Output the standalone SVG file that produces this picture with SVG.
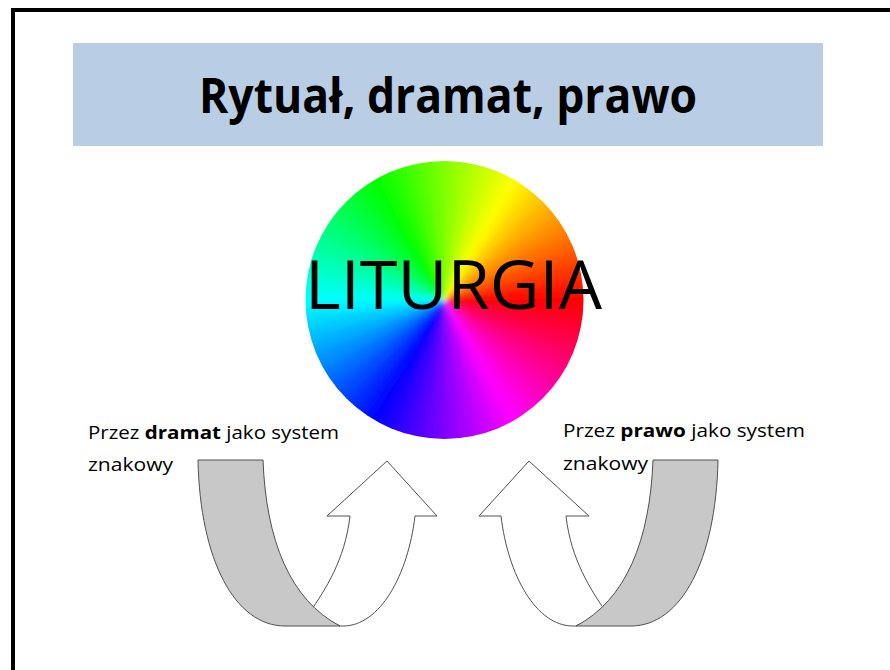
<svg xmlns="http://www.w3.org/2000/svg" xmlns:xlink="http://www.w3.org/1999/xlink" width="890" height="670" viewBox="0 0 890 670">
<style>
.t{font-family:"Open Sans","Liberation Sans",sans-serif;fill:#000}
.lbl{font-size:18px}
.gray{fill:#C8C8C8;stroke:#505050;stroke-width:1;stroke-linejoin:round}
.white{fill:#FFFFFF;stroke:#505050;stroke-width:1;stroke-linejoin:miter}
</style>
<defs>
<path id="w" d="M0,0 L149.62,-10.72 A150,150 0 0 1 149.62,10.72 Z"/>
<clipPath id="disc"><circle cx="444.5" cy="300" r="139"/></clipPath>
<filter id="soft" x="-10%" y="-10%" width="120%" height="120%"><feGaussianBlur stdDeviation="2"/></filter>
<linearGradient id="b" gradientUnits="userSpaceOnUse" x1="0" y1="-9.09" x2="0" y2="9.09"/>
<linearGradient id="a0" xlink:href="#b"><stop stop-color="#FF0000"/><stop offset="1" stop-color="#FF0020"/></linearGradient>
<linearGradient id="a1" xlink:href="#b"><stop stop-color="#FF0020"/><stop offset="1" stop-color="#FF0040"/></linearGradient>
<linearGradient id="a2" xlink:href="#b"><stop stop-color="#FF0040"/><stop offset="1" stop-color="#FF0060"/></linearGradient>
<linearGradient id="a3" xlink:href="#b"><stop stop-color="#FF0060"/><stop offset="1" stop-color="#FF0080"/></linearGradient>
<linearGradient id="a4" xlink:href="#b"><stop stop-color="#FF0080"/><stop offset="1" stop-color="#FF009F"/></linearGradient>
<linearGradient id="a5" xlink:href="#b"><stop stop-color="#FF009F"/><stop offset="1" stop-color="#FF00BF"/></linearGradient>
<linearGradient id="a6" xlink:href="#b"><stop stop-color="#FF00BF"/><stop offset="1" stop-color="#FF00DF"/></linearGradient>
<linearGradient id="a7" xlink:href="#b"><stop stop-color="#FF00DF"/><stop offset="1" stop-color="#FF00FF"/></linearGradient>
<linearGradient id="a8" xlink:href="#b"><stop stop-color="#FF00FF"/><stop offset="1" stop-color="#DF00FF"/></linearGradient>
<linearGradient id="a9" xlink:href="#b"><stop stop-color="#DF00FF"/><stop offset="1" stop-color="#BF00FF"/></linearGradient>
<linearGradient id="a10" xlink:href="#b"><stop stop-color="#BF00FF"/><stop offset="1" stop-color="#9F00FF"/></linearGradient>
<linearGradient id="a11" xlink:href="#b"><stop stop-color="#9F00FF"/><stop offset="1" stop-color="#8000FF"/></linearGradient>
<linearGradient id="a12" xlink:href="#b"><stop stop-color="#8000FF"/><stop offset="1" stop-color="#6000FF"/></linearGradient>
<linearGradient id="a13" xlink:href="#b"><stop stop-color="#6000FF"/><stop offset="1" stop-color="#4000FF"/></linearGradient>
<linearGradient id="a14" xlink:href="#b"><stop stop-color="#4000FF"/><stop offset="1" stop-color="#2000FF"/></linearGradient>
<linearGradient id="a15" xlink:href="#b"><stop stop-color="#2000FF"/><stop offset="1" stop-color="#0000FF"/></linearGradient>
<linearGradient id="a16" xlink:href="#b"><stop stop-color="#0000FF"/><stop offset="1" stop-color="#0020FF"/></linearGradient>
<linearGradient id="a17" xlink:href="#b"><stop stop-color="#0020FF"/><stop offset="1" stop-color="#0040FF"/></linearGradient>
<linearGradient id="a18" xlink:href="#b"><stop stop-color="#0040FF"/><stop offset="1" stop-color="#0060FF"/></linearGradient>
<linearGradient id="a19" xlink:href="#b"><stop stop-color="#0060FF"/><stop offset="1" stop-color="#0080FF"/></linearGradient>
<linearGradient id="a20" xlink:href="#b"><stop stop-color="#0080FF"/><stop offset="1" stop-color="#009FFF"/></linearGradient>
<linearGradient id="a21" xlink:href="#b"><stop stop-color="#009FFF"/><stop offset="1" stop-color="#00BFFF"/></linearGradient>
<linearGradient id="a22" xlink:href="#b"><stop stop-color="#00BFFF"/><stop offset="1" stop-color="#00DFFF"/></linearGradient>
<linearGradient id="a23" xlink:href="#b"><stop stop-color="#00DFFF"/><stop offset="1" stop-color="#00FFFF"/></linearGradient>
<linearGradient id="a24" xlink:href="#b"><stop stop-color="#00FFFF"/><stop offset="1" stop-color="#00FFDF"/></linearGradient>
<linearGradient id="a25" xlink:href="#b"><stop stop-color="#00FFDF"/><stop offset="1" stop-color="#00FFBF"/></linearGradient>
<linearGradient id="a26" xlink:href="#b"><stop stop-color="#00FFBF"/><stop offset="1" stop-color="#00FF9F"/></linearGradient>
<linearGradient id="a27" xlink:href="#b"><stop stop-color="#00FF9F"/><stop offset="1" stop-color="#00FF80"/></linearGradient>
<linearGradient id="a28" xlink:href="#b"><stop stop-color="#00FF80"/><stop offset="1" stop-color="#00FF60"/></linearGradient>
<linearGradient id="a29" xlink:href="#b"><stop stop-color="#00FF60"/><stop offset="1" stop-color="#00FF40"/></linearGradient>
<linearGradient id="a30" xlink:href="#b"><stop stop-color="#00FF40"/><stop offset="1" stop-color="#00FF20"/></linearGradient>
<linearGradient id="a31" xlink:href="#b"><stop stop-color="#00FF20"/><stop offset="1" stop-color="#00FF00"/></linearGradient>
<linearGradient id="a32" xlink:href="#b"><stop stop-color="#00FF00"/><stop offset="1" stop-color="#20FF00"/></linearGradient>
<linearGradient id="a33" xlink:href="#b"><stop stop-color="#20FF00"/><stop offset="1" stop-color="#40FF00"/></linearGradient>
<linearGradient id="a34" xlink:href="#b"><stop stop-color="#40FF00"/><stop offset="1" stop-color="#60FF00"/></linearGradient>
<linearGradient id="a35" xlink:href="#b"><stop stop-color="#60FF00"/><stop offset="1" stop-color="#80FF00"/></linearGradient>
<linearGradient id="a36" xlink:href="#b"><stop stop-color="#80FF00"/><stop offset="1" stop-color="#9FFF00"/></linearGradient>
<linearGradient id="a37" xlink:href="#b"><stop stop-color="#9FFF00"/><stop offset="1" stop-color="#BFFF00"/></linearGradient>
<linearGradient id="a38" xlink:href="#b"><stop stop-color="#BFFF00"/><stop offset="1" stop-color="#DFFF00"/></linearGradient>
<linearGradient id="a39" xlink:href="#b"><stop stop-color="#DFFF00"/><stop offset="1" stop-color="#FFFF00"/></linearGradient>
<linearGradient id="a40" xlink:href="#b"><stop stop-color="#FFFF00"/><stop offset="1" stop-color="#FFDF00"/></linearGradient>
<linearGradient id="a41" xlink:href="#b"><stop stop-color="#FFDF00"/><stop offset="1" stop-color="#FFBF00"/></linearGradient>
<linearGradient id="a42" xlink:href="#b"><stop stop-color="#FFBF00"/><stop offset="1" stop-color="#FF9F00"/></linearGradient>
<linearGradient id="a43" xlink:href="#b"><stop stop-color="#FF9F00"/><stop offset="1" stop-color="#FF8000"/></linearGradient>
<linearGradient id="a44" xlink:href="#b"><stop stop-color="#FF8000"/><stop offset="1" stop-color="#FF6000"/></linearGradient>
<linearGradient id="a45" xlink:href="#b"><stop stop-color="#FF6000"/><stop offset="1" stop-color="#FF4000"/></linearGradient>
<linearGradient id="a46" xlink:href="#b"><stop stop-color="#FF4000"/><stop offset="1" stop-color="#FF2000"/></linearGradient>
<linearGradient id="a47" xlink:href="#b"><stop stop-color="#FF2000"/><stop offset="1" stop-color="#FF0000"/></linearGradient>
</defs>
<rect width="890" height="670" fill="#FFFFFF"/>
<g id="frame"><path d="M13,670 L13,10 L890,10" fill="none" stroke="#000" stroke-width="4"/></g>
<g id="title">
<rect x="73" y="43" width="750" height="103" fill="#B9CDE5"/>
<text class="t" x="199" y="113" font-size="49" font-weight="bold" textLength="498" lengthAdjust="spacingAndGlyphs">Rytuał, dramat, prawo</text>
</g>
<g id="wheel">
<g clip-path="url(#disc)">
<g filter="url(#soft)">
<g transform="translate(444.5,300)">
<use xlink:href="#w" fill="url(#a0)" transform="rotate(3.75)"/>
<use xlink:href="#w" fill="url(#a1)" transform="rotate(11.25)"/>
<use xlink:href="#w" fill="url(#a2)" transform="rotate(18.75)"/>
<use xlink:href="#w" fill="url(#a3)" transform="rotate(26.25)"/>
<use xlink:href="#w" fill="url(#a4)" transform="rotate(33.75)"/>
<use xlink:href="#w" fill="url(#a5)" transform="rotate(41.25)"/>
<use xlink:href="#w" fill="url(#a6)" transform="rotate(48.75)"/>
<use xlink:href="#w" fill="url(#a7)" transform="rotate(56.25)"/>
<use xlink:href="#w" fill="url(#a8)" transform="rotate(63.75)"/>
<use xlink:href="#w" fill="url(#a9)" transform="rotate(71.25)"/>
<use xlink:href="#w" fill="url(#a10)" transform="rotate(78.75)"/>
<use xlink:href="#w" fill="url(#a11)" transform="rotate(86.25)"/>
<use xlink:href="#w" fill="url(#a12)" transform="rotate(93.75)"/>
<use xlink:href="#w" fill="url(#a13)" transform="rotate(101.25)"/>
<use xlink:href="#w" fill="url(#a14)" transform="rotate(108.75)"/>
<use xlink:href="#w" fill="url(#a15)" transform="rotate(116.25)"/>
<use xlink:href="#w" fill="url(#a16)" transform="rotate(123.75)"/>
<use xlink:href="#w" fill="url(#a17)" transform="rotate(131.25)"/>
<use xlink:href="#w" fill="url(#a18)" transform="rotate(138.75)"/>
<use xlink:href="#w" fill="url(#a19)" transform="rotate(146.25)"/>
<use xlink:href="#w" fill="url(#a20)" transform="rotate(153.75)"/>
<use xlink:href="#w" fill="url(#a21)" transform="rotate(161.25)"/>
<use xlink:href="#w" fill="url(#a22)" transform="rotate(168.75)"/>
<use xlink:href="#w" fill="url(#a23)" transform="rotate(176.25)"/>
<use xlink:href="#w" fill="url(#a24)" transform="rotate(183.75)"/>
<use xlink:href="#w" fill="url(#a25)" transform="rotate(191.25)"/>
<use xlink:href="#w" fill="url(#a26)" transform="rotate(198.75)"/>
<use xlink:href="#w" fill="url(#a27)" transform="rotate(206.25)"/>
<use xlink:href="#w" fill="url(#a28)" transform="rotate(213.75)"/>
<use xlink:href="#w" fill="url(#a29)" transform="rotate(221.25)"/>
<use xlink:href="#w" fill="url(#a30)" transform="rotate(228.75)"/>
<use xlink:href="#w" fill="url(#a31)" transform="rotate(236.25)"/>
<use xlink:href="#w" fill="url(#a32)" transform="rotate(243.75)"/>
<use xlink:href="#w" fill="url(#a33)" transform="rotate(251.25)"/>
<use xlink:href="#w" fill="url(#a34)" transform="rotate(258.75)"/>
<use xlink:href="#w" fill="url(#a35)" transform="rotate(266.25)"/>
<use xlink:href="#w" fill="url(#a36)" transform="rotate(273.75)"/>
<use xlink:href="#w" fill="url(#a37)" transform="rotate(281.25)"/>
<use xlink:href="#w" fill="url(#a38)" transform="rotate(288.75)"/>
<use xlink:href="#w" fill="url(#a39)" transform="rotate(296.25)"/>
<use xlink:href="#w" fill="url(#a40)" transform="rotate(303.75)"/>
<use xlink:href="#w" fill="url(#a41)" transform="rotate(311.25)"/>
<use xlink:href="#w" fill="url(#a42)" transform="rotate(318.75)"/>
<use xlink:href="#w" fill="url(#a43)" transform="rotate(326.25)"/>
<use xlink:href="#w" fill="url(#a44)" transform="rotate(333.75)"/>
<use xlink:href="#w" fill="url(#a45)" transform="rotate(341.25)"/>
<use xlink:href="#w" fill="url(#a46)" transform="rotate(348.75)"/>
<use xlink:href="#w" fill="url(#a47)" transform="rotate(356.25)"/>
</g>
</g>
</g>
<text class="t" x="305" y="309" font-size="68" textLength="297" lengthAdjust="spacingAndGlyphs">LITURGIA</text>
</g>
<g id="label-left">
<text class="t lbl" x="88" y="439" textLength="251" lengthAdjust="spacingAndGlyphs">Przez <tspan font-weight="bold">dramat</tspan> jako system</text>
<text class="t lbl" x="88" y="471" textLength="85" lengthAdjust="spacingAndGlyphs">znakowy</text>
</g>
<g id="label-right">
<text class="t lbl" x="563" y="437" textLength="242" lengthAdjust="spacingAndGlyphs">Przez <tspan font-weight="bold">prawo</tspan> jako system</text>
<text class="t lbl" x="563" y="470" textLength="85" lengthAdjust="spacingAndGlyphs">znakowy</text>
</g>
<g id="connectors">
<g id="arrow-left">
<path class="white" d="M310,612 C325,590 345,560 350,516 L327,516 L387,461 L437,516 L415,516 C408,575 380,626 343,626 L340,626 Z"/>
<path class="gray" d="M198,460 L263,460 C266,540 290,600 340,626 L285,626 C235,626 200,560 198,460 Z"/>
</g>
<g id="arrow-right" transform="translate(916,0) scale(-1,1)">
<path class="white" d="M310,612 C325,590 345,560 350,516 L327,516 L387,461 L437,516 L415,516 C408,575 380,626 343,626 L340,626 Z"/>
<path class="gray" d="M198,460 L263,460 C266,540 290,600 340,626 L285,626 C235,626 200,560 198,460 Z"/>
</g>
</g>
</svg>
